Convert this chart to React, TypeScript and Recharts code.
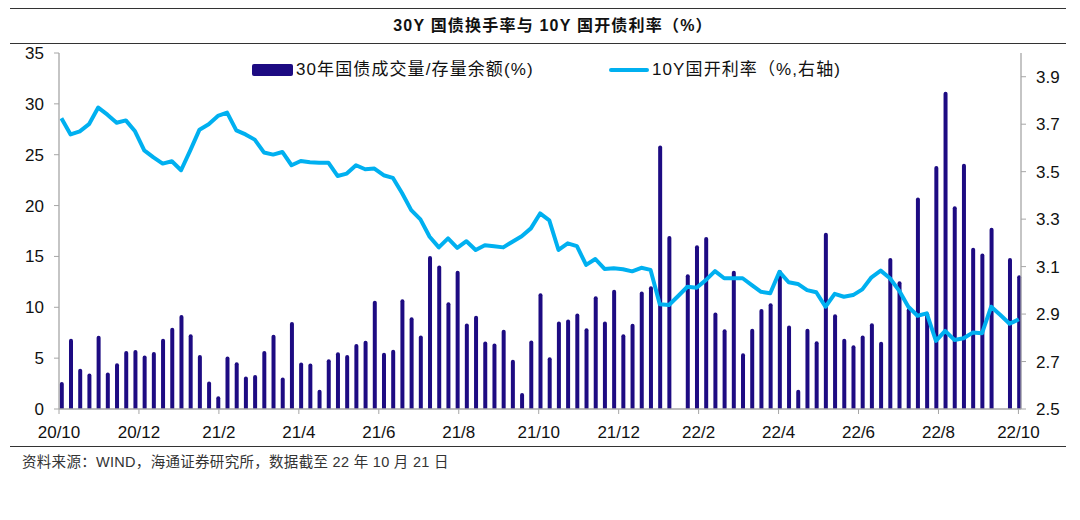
import React from 'react';
import { ComposedChart, Bar, Line, XAxis, YAxis } from 'recharts';

// weekly observations, 2020/10 – 2022/10/21
const turnover: (number | null)[] = [
  2.65, 6.9, 3.95, 3.5, 7.2, 3.6, 4.5, 5.7, 5.8, 5.25,
  5.6, 6.9, 8.0, 9.25, 7.35, 5.3, 2.7, 1.25, 5.15, 4.6,
  3.2, 3.35, 5.7, 7.3, 3.1, 8.55, 4.58, 4.48, 1.9, 4.9,
  5.59, 5.3, 6.4, 6.7, 10.65, 5.52, 5.82, 10.78, 9.02, 7.22,
  15.03, 14.12, 10.49, 13.6, 8.4, 9.18, 6.63, 6.44, 7.78, 4.84,
  1.57, 6.73, 11.37, 5.1, 8.6, 8.8, 9.38, 7.94, 11.08, 8.6,
  11.73, 7.35, 8.37, 11.54, 12.06, 25.9, 17.0, null, 13.24, 16.1,
  16.9, 9.48, 7.84, 13.6, 5.49, 7.9, 9.84, 10.39, 13.66, 8.2,
  1.9, 7.88, 6.67, 17.32, 9.31, 6.9, 6.27, 7.22, 8.43, 6.6,
  14.84, 12.55, 9.9, 20.8, 9.5, 23.9, 31.2, 19.93, 24.1, 15.85,
  15.3, 17.81, null, 14.84, 13.14,
];

const cdbYield: number[] = [
  3.725, 3.657, 3.67, 3.7, 3.77, 3.74, 3.706, 3.716, 3.67, 3.59,
  3.56, 3.534, 3.544, 3.506, 3.59, 3.677, 3.7, 3.735, 3.749, 3.674,
  3.657, 3.635, 3.581, 3.572, 3.583, 3.527, 3.545, 3.54, 3.538, 3.538,
  3.482, 3.492, 3.527, 3.51, 3.513, 3.485, 3.474, 3.41, 3.338, 3.299,
  3.226, 3.181, 3.219, 3.179, 3.207, 3.17, 3.19, 3.186, 3.181, 3.205,
  3.228, 3.261, 3.324, 3.295, 3.17, 3.198, 3.186, 3.107, 3.132, 3.09,
  3.093, 3.089, 3.08, 3.095, 3.086, 2.941, 2.938, 2.976, 3.015, 3.011,
  3.043, 3.081, 3.051, 3.051, 3.051, 3.022, 2.994, 2.988, 3.078, 3.034,
  3.027, 3.001, 2.992, 2.931, 2.985, 2.973, 2.98, 3.004, 3.055, 3.083,
  3.051, 2.999, 2.931, 2.893, 2.903, 2.787, 2.829, 2.791, 2.798, 2.822,
  2.819, 2.931, 2.896, 2.859, 2.878,
];

const monthLabels = ['20/10', '20/12', '21/2', '21/4', '21/6', '21/8', '21/10', '21/12', '22/2', '22/4', '22/6', '22/8', '22/10'];
const leftTicks = [0, 5, 10, 15, 20, 25, 30, 35];
const rightTicks = [2.5, 2.7, 2.9, 3.1, 3.3, 3.5, 3.7, 3.9];

// x axis is in weeks; a label every two months (~8.69 weeks)
const X_START = -0.26;
const WEEKS_PER_TICK = 8.685;
const xTicks = monthLabels.map((_, k) => X_START + k * WEEKS_PER_TICK);

const data = turnover.map((v, i) => ({ i, turnover: v, rate: cdbYield[i] }));

const BAR_COLOR = '#1D0B82';
const LINE_COLOR = '#00B0F0';
const AXIS_COLOR = '#A6A6A6';
const FONT = '"Liberation Sans", Arial, "Noto Sans CJK SC", sans-serif';

const tickStyle = { fill: '#111', fontSize: 17, fontFamily: FONT };

export default function App() {
  return (
    <div style={{ position: 'relative', width: 1080, height: 520, background: '#fff', fontFamily: FONT }}>
      <style>{'body{margin:0}'}</style>

      <div style={{ position: 'absolute', left: 10, width: 1056, top: 8, height: 0, borderTop: '1.7px solid #333' }} />
      <div
        style={{
          position: 'absolute',
          left: 0,
          width: 1106,
          top: 15,
          textAlign: 'center',
          fontSize: 16,
          fontWeight: 'bold',
          letterSpacing: 1.2,
          color: '#111',
          lineHeight: '22px',
        }}
      >
        30Y 国债换手率与 10Y 国开债利率（%）
      </div>
      <div style={{ position: 'absolute', left: 10, width: 1056, top: 43, height: 0, borderTop: '1.7px solid #333' }} />

      <div style={{ position: 'absolute', left: 0, top: 0 }}>
        <ComposedChart width={1080} height={450} data={data} margin={{ top: 53, right: 0, bottom: 11, left: 0 }}>
          <XAxis
            dataKey="i"
            type="number"
            domain={[X_START, 104.24]}
            ticks={xTicks}
            interval={0}
            tickFormatter={(_v, idx) => monthLabels[idx]}
            height={30}
            tick={tickStyle}
            tickSize={5}
            tickMargin={12}
            axisLine={{ stroke: AXIS_COLOR, strokeWidth: 1.3 }}
            tickLine={{ stroke: AXIS_COLOR }}
          />
          <YAxis
            yAxisId="left"
            orientation="left"
            domain={[0, 35]}
            ticks={leftTicks}
            width={59}
            tick={tickStyle}
            tickSize={5}
            tickMargin={10}
            axisLine={{ stroke: AXIS_COLOR, strokeWidth: 1.3 }}
            tickLine={{ stroke: AXIS_COLOR }}
          />
          <YAxis
            yAxisId="right"
            orientation="right"
            domain={[2.5, 4.0]}
            ticks={rightTicks}
            width={59}
            tickFormatter={(v) => v.toFixed(1)}
            tick={tickStyle}
            tickSize={5}
            tickMargin={10}
            axisLine={{ stroke: AXIS_COLOR, strokeWidth: 1.3 }}
            tickLine={{ stroke: AXIS_COLOR }}
          />
          <Bar yAxisId="left" dataKey="turnover" fill={BAR_COLOR} barSize={4} radius={[2, 2, 0, 0]} isAnimationActive={false} />
          <Line
            yAxisId="right"
            dataKey="rate"
            type="linear"
            stroke={LINE_COLOR}
            strokeWidth={4}
            dot={false}
            activeDot={false}
            strokeLinejoin="round"
            isAnimationActive={false}
          />
        </ComposedChart>
      </div>

      {/* legend */}
      <div style={{ position: 'absolute', left: 252, top: 64, width: 41, height: 12, background: BAR_COLOR, borderRadius: 2 }} />
      <div style={{ position: 'absolute', left: 296, top: 59, fontSize: 17, lineHeight: '22px', color: '#111', letterSpacing: 1.1 }}>
        30年国债成交量/存量余额(%)
      </div>
      <div style={{ position: 'absolute', left: 609, top: 68, width: 40, height: 4, background: LINE_COLOR, borderRadius: 2 }} />
      <div style={{ position: 'absolute', left: 652, top: 59, fontSize: 17, lineHeight: '22px', color: '#111', letterSpacing: 1.1 }}>
        10Y国开利率（%,右轴)
      </div>

      <div style={{ position: 'absolute', left: 10, width: 1056, top: 446, height: 0, borderTop: '1.7px solid #333' }} />
      <div style={{ position: 'absolute', left: 22, top: 452, fontSize: 14.5, lineHeight: '20px', color: '#333', letterSpacing: 0.3 }}>
        资料来源：WIND，海通证券研究所，数据截至 22 年 10 月 21 日
      </div>
    </div>
  );
}
